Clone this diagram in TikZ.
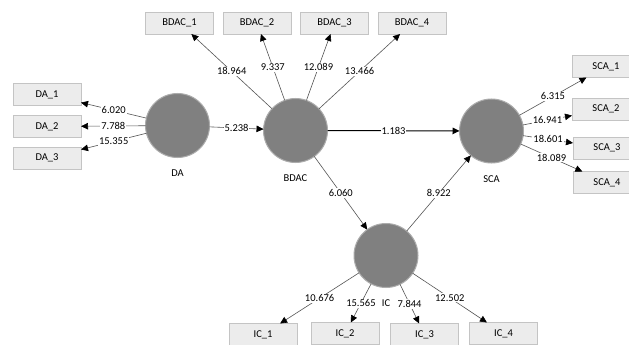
\documentclass[tikz,border=0pt]{standalone}
\usepackage{fontspec}
\setmainfont{Carlito}
\usetikzlibrary{arrows.meta}
\definecolor{lv}{RGB}{128,128,128}
\definecolor{lvrim}{RGB}{172,172,172}
\definecolor{boxfill}{RGB}{236,236,236}
\definecolor{boxline}{RGB}{196,196,196}
\definecolor{wire}{RGB}{85,85,85}
\begin{document}
\begin{tikzpicture}[x=1pt, y=-1pt,
  font=\fontsize{10.5}{12}\selectfont,
  latent/.style={circle, minimum size=64pt, inner sep=0pt, outer sep=0pt,
    fill=lv, draw=lvrim, line width=1pt},
  lvname/.style={yshift=-9pt},
  indicator/.style={rectangle, minimum width=68pt, minimum height=22pt,
    inner sep=0pt, outer sep=0pt, fill=boxfill, draw=boxline, line width=0.8pt},
  link/.style={draw=wire, line width=0.6pt,
    -{Triangle[length=7pt, width=6.5pt, color=black]}},
  strong/.style={link, draw=black, line width=1pt},
  coef/.style={fill=white, inner sep=1pt, pos=0.5}]

\fill[white] (0,0) rectangle (629,345);
\useasboundingbox (0,0) rectangle (629,345);
\clip (0,0) rectangle (629,345);

% latent variables
\node[latent, label={[lvname]below:DA}]   (DA)   at (177.5,125.5) {};
\node[latent, label={[lvname]below:BDAC}] (BDAC) at (295.5,130.5) {};
\node[latent, label={[lvname]below:SCA}]  (SCA)  at (491.5,131)   {};
\node[latent, label={[lvname]below:IC}]   (IC)   at (386,255.5)   {};

% indicators
\node[indicator] (DA1) at (47,94.5)  {DA\_1};
\node[indicator] (DA2) at (47,126.5) {DA\_2};
\node[indicator] (DA3) at (47,158)   {DA\_3};

\node[indicator] (BDAC1) at (179.5,23) {BDAC\_1};
\node[indicator] (BDAC2) at (257,23)   {BDAC\_2};
\node[indicator] (BDAC3) at (334.5,23) {BDAC\_3};
\node[indicator] (BDAC4) at (412,23)   {BDAC\_4};

\node[indicator] (SCA1) at (606,66.5)  {SCA\_1};
\node[indicator] (SCA2) at (606,109)   {SCA\_2};
\node[indicator] (SCA3) at (607,148)   {SCA\_3};
\node[indicator] (SCA4) at (607,182.5) {SCA\_4};

\node[indicator] (IC1) at (263,334.5)   {IC\_1};
\node[indicator] (IC2) at (345,333.5)   {IC\_2};
\node[indicator] (IC3) at (424.5,334.5) {IC\_3};
\node[indicator] (IC4) at (503.5,333.5) {IC\_4};

% outer model
\draw[link] (DA) -- node[coef]{6.020}  (DA1);
\draw[link] (DA) -- node[coef]{7.788}  (DA2);
\draw[link] (DA) -- node[coef]{15.355} (DA3);

\draw[link] (BDAC) -- node[coef]{18.964} (BDAC1);
\draw[link] (BDAC) -- node[coef]{9.337}  (BDAC2);
\draw[link] (BDAC) -- node[coef]{12.089} (BDAC3);
\draw[link] (BDAC) -- node[coef]{13.466} (BDAC4);

\draw[link] (SCA) -- node[coef]{6.315}  (SCA1);
\draw[link] (SCA) -- node[coef]{16.941} (SCA2);
\draw[link] (SCA) -- node[coef]{18.601} (SCA3);
\draw[link] (SCA) -- node[coef]{18.089} (SCA4);

\draw[link] (IC) -- node[coef]{10.676} (IC1);
\draw[link] (IC) -- node[coef]{15.565} (IC2);
\draw[link] (IC) -- node[coef]{7.844}  (IC3);
\draw[link] (IC) -- node[coef]{12.502} (IC4);

% inner model
\draw[link]   (DA)   -- node[coef]{5.238} (BDAC);
\draw[strong] (BDAC) -- node[coef]{1.183} (SCA);
\draw[link]   (BDAC) -- node[coef]{6.060} (IC);
\draw[link]   (IC)   -- node[coef]{8.922} (SCA);
\end{tikzpicture}
\end{document}
